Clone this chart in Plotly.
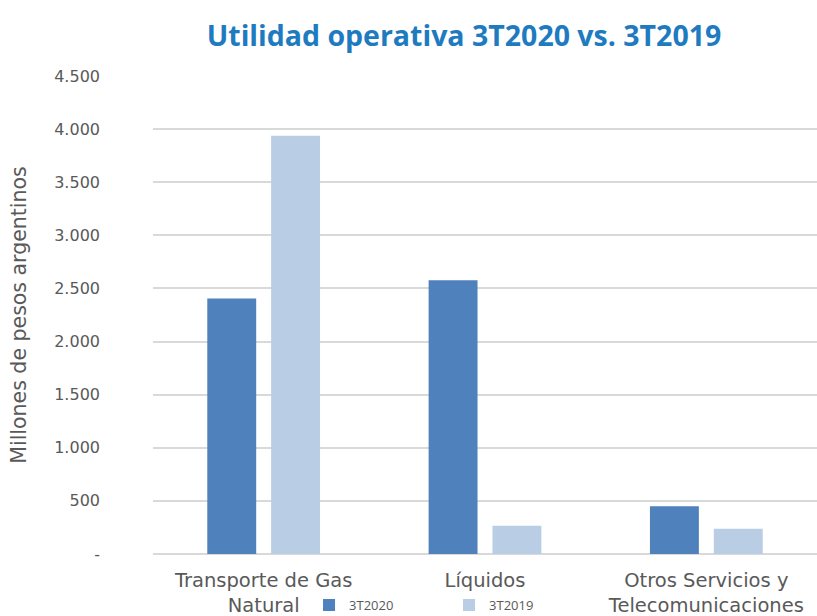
import plotly.graph_objects as go

categories = ["Transporte de Gas<br>Natural", "Líquidos", "Otros Servicios y<br>Telecomunicaciones"]
series_names = ["3T2020", "3T2019"]
values_2020 = [2405, 2578, 450]
values_2019 = [3937, 266, 237]
y_tickvals = [0, 500, 1000, 1500, 2000, 2500, 3000, 3500, 4000, 4500]
y_ticktext = ["-", "500", "1.000", "1.500", "2.000", "2.500", "3.000", "3.500", "4.000", "4.500"]

colors = ["#4F81BD", "#B9CDE5"]
FONT = "DejaVu Sans"

fig = go.Figure()
for name, vals, col in zip(series_names, [values_2020, values_2019], colors):
    fig.add_trace(go.Bar(x=categories, y=vals, name=name, marker=dict(color=col, line=dict(width=0))))

fig.update_layout(
    width=817, height=616,
    margin=dict(l=153, r=0, t=76, b=62, autoexpand=False),
    paper_bgcolor="white", plot_bgcolor="white",
    barmode="group", bargap=0.423, bargroupgap=0.234,
    title=dict(text="<b>Utilidad operativa 3T2020 vs. 3T2019</b>",
               font=dict(family="Open Sans", size=28.5, color="#1E7BBF"),
               x=464/817, xanchor="center", y=1 - 36/616, yanchor="middle"),
    font=dict(family=FONT, color="#595959"),
    showlegend=True,
    legend=dict(orientation="h", x=0.235, xanchor="left", y=-0.107, yanchor="middle",
                font=dict(family="Open Sans", size=13, color="#595959"), itemwidth=30,
                entrywidth=95, entrywidthmode="pixels",
                bgcolor="rgba(0,0,0,0)"),
)
fig.update_xaxes(showgrid=False, showline=False, ticks="", ticklabelstandoff=12, automargin=False,
                 tickfont=dict(family=FONT, size=19.5, color="#595959"))
fig.update_yaxes(range=[0, 4500], tickvals=y_tickvals, ticktext=y_ticktext, automargin=False,
                 showgrid=True, gridcolor="#D9D9D9", gridwidth=1.5,
                 zeroline=True, zerolinecolor="#D9D9D9", zerolinewidth=1.5,
                 showline=False, ticks="", ticklabelstandoff=52,
                 tickfont=dict(family=FONT, size=16, color="#595959"),
                 title=dict(text="Millones de pesos argentinos",
                            font=dict(family=FONT, size=20.5, color="#595959"), standoff=22))

fig.write_html("out.html")
